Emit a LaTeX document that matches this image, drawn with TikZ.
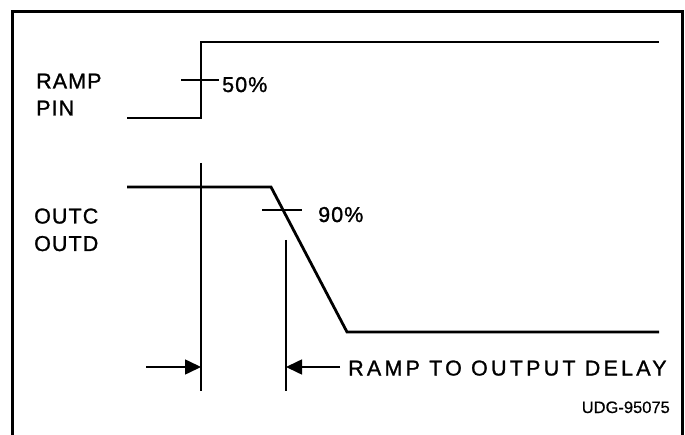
\documentclass[tikz,border=0pt]{standalone}
\usepackage{fontspec}
\setmainfont{Liberation Sans}
\usetikzlibrary{arrows.meta}
\begin{document}
\begin{tikzpicture}[x=1pt,y=-1pt,
  frame/.style={line width=3pt},
  wave/.style={line width=2.8pt,line join=miter},
  thin/.style={line width=1.6pt},
  dimarrow/.style={line width=1.6pt,-{Triangle[length=16pt,width=15pt]}},
  lbl/.style={inner sep=0pt,anchor=base west,font=\fontsize{21.5}{24}\selectfont\addfontfeatures{LetterSpace=5,FakeBold=1.2}},
  big/.style={inner sep=0pt,anchor=base west,font=\fontsize{21.5}{24}\selectfont\addfontfeatures{LetterSpace=15,FakeBold=1.2}},
  small/.style={inner sep=0pt,anchor=base east,font=\fontsize{16.5}{18}\selectfont\addfontfeatures{FakeBold=0.4}}]
\useasboundingbox (0,0) rectangle (685,435);
\clip (0,0) rectangle (685,435);
% frame
\coordinate (fbl) at (12,440);
\coordinate (ftl) at (12,12);
\coordinate (ftr) at (682,12);
\coordinate (fbr) at (682,440);
\draw[frame] (fbl) -- (ftl) -- (ftr) -- (fbr);
% RAMP PIN waveform
\coordinate (r0) at (127,118);
\coordinate (r1) at (201,118);
\coordinate (r2) at (201,42);
\coordinate (r3) at (659,42);
\draw[wave] (r0) -- (r1) -- (r2) -- (r3);
\coordinate (t50a) at (181,80);
\coordinate (t50b) at (219,80);
\draw[thin] (t50a) -- (t50b);
% OUT waveform
\coordinate (o0) at (127,187);
\coordinate (o1) at (271,187);
\coordinate (o2) at (347,332);
\coordinate (o3) at (659,332);
\draw[wave] (o0) -- (o1) -- (o2) -- (o3);
\coordinate (t90a) at (262,210);
\coordinate (t90b) at (302,210);
\draw[thin] (t90a) -- (t90b);
% reference lines
\coordinate (v1t) at (201,163);
\coordinate (v1b) at (201,391);
\coordinate (v2t) at (286,240);
\coordinate (v2b) at (286,391);
\draw[thin] (v1t) -- (v1b);
\draw[thin] (v2t) -- (v2b);
% dimension arrows
\coordinate (a1s) at (146,367);
\coordinate (a1e) at (201,367);
\coordinate (a2s) at (340,367);
\coordinate (a2e) at (286,367);
\draw[dimarrow] (a1s) -- (a1e);
\draw[dimarrow] (a2s) -- (a2e);
% labels
\node[lbl] (ramp) at (36,88.5) {RAMP};
\node[lbl] (pin) at (36,115.5) {PIN};
\node[lbl] (outc) at (34,223.5) {OUTC};
\node[lbl] (outd) at (34,251) {OUTD};
\node[lbl] (p50) at (222,92) {50\%};
\node[lbl] (p90) at (318,222) {90\%};
\node[big] (delay) at (348,375.5) {RAMP TO OUTPUT DELAY};
\node[small] (udg) at (670,413) {UDG-95075};
\end{tikzpicture}
\end{document}
